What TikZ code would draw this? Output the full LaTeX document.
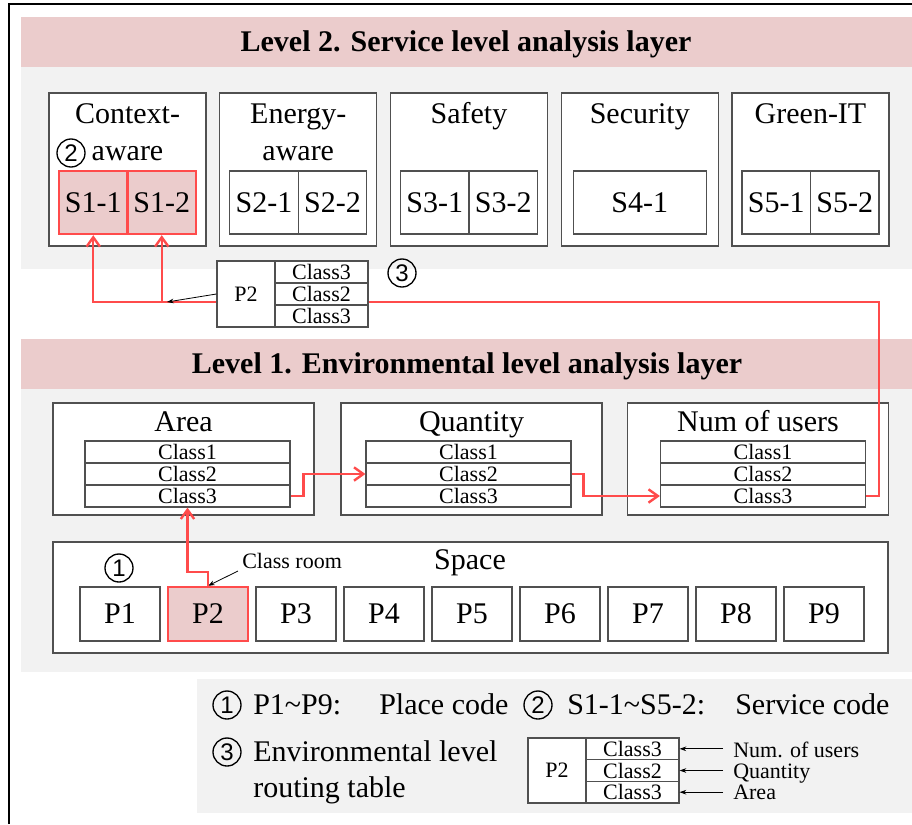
\documentclass[tikz,border=0pt]{standalone}
\usepackage{fontspec}
\setmainfont{Liberation Serif}
\newfontfamily\circfont{Liberation Sans}
\usetikzlibrary{arrows.meta}
\definecolor{bandpink}{RGB}{235,204,204}
\definecolor{bggray}{RGB}{242,242,242}
\definecolor{linegray}{RGB}{80,80,80}
\definecolor{redc}{RGB}{255,75,75}
\begin{document}
\begin{tikzpicture}[x=0.75pt,y=-0.75pt,
  big/.style={font=\fontsize{22.5pt}{26pt}\selectfont},
  small/.style={font=\fontsize{16.5pt}{19pt}\selectfont},
  txt/.style={inner sep=0pt,anchor=base},
  circ/.style={circle,draw=black,line width=1pt,minimum size=21pt,inner sep=0pt,font=\circfont\fontsize{18pt}{18pt}\selectfont},
  box/.style={draw=linegray,line width=0.9pt,fill=white,inner sep=0pt},
  sbox/.style={box,minimum width=117.75pt,minimum height=114.75pt},
  cell/.style={box,big,minimum width=51.375pt,minimum height=47.25pt},
  hcell/.style={cell,draw=redc,line width=1.8pt,fill=bandpink},
  ebox/.style={box,minimum width=195.75pt,minimum height=84pt},
  crow/.style={box,small,minimum width=153.75pt,minimum height=16.5pt},
  pbox/.style={box,big,minimum width=60pt,minimum height=40.5pt},
  redl/.style={draw=redc,line width=1.8pt},
  rtip/.style={-{Straight Barb[length=7pt,width=10pt]}},
  btip/.style={draw=black,line width=0.6pt,-{Stealth[length=5pt,width=3.5pt]}}
]
\useasboundingbox (0,0) rectangle (912,824);
% frame
\draw[line width=2pt] (9,824) -- (9,4) -- (912,4);
% backgrounds
\fill[bandpink] (21,17) rectangle (912,67);
\fill[bggray] (21,67) rectangle (912,269);
\fill[bandpink] (21,339) rectangle (912,389);
\fill[bggray] (21,389) rectangle (912,672);
\fill[bggray] (197,679) rectangle (912,813);
% titles
\node[txt,font=\fontsize{22.5pt}{26pt}\selectfont\bfseries] (t2) at (466,51) {Level 2. Service level analysis layer};
\node[txt,font=\fontsize{22.5pt}{26pt}\selectfont\bfseries] (t1) at (467,373) {Level 1. Environmental level analysis layer};
% level 2 service boxes
\node[sbox] (sb1) at (127.5,169.5) {};
\node[sbox] (sb2) at (298.25,169.5) {};
\node[sbox] (sb3) at (469,169.5) {};
\node[sbox] (sb4) at (639.75,169.5) {};
\node[sbox] (sb5) at (810.5,169.5) {};
\node[txt,big] (sb1a) at (127.5,123) {Context-};
\node[txt,big] (sb1b) at (127.5,160) {aware};
\node[circ] (c2a) at (71,153) {2};
\node[txt,big] (sb2a) at (298.25,123) {Energy-};
\node[txt,big] (sb2b) at (298.25,160) {aware};
\node[txt,big] (sb3a) at (469,123) {Safety};
\node[txt,big] (sb4a) at (639.75,123) {Security};
\node[txt,big] (sb5a) at (810.5,123) {Green-IT};
\node[hcell] (s11) at (93.25,202.5) {S1-1};
\node[hcell] (s12) at (161.75,202.5) {S1-2};
\node[cell] (s21) at (264,202.5) {S2-1};
\node[cell] (s22) at (332.5,202.5) {S2-2};
\node[cell] (s31) at (434.75,202.5) {S3-1};
\node[cell] (s32) at (503.25,202.5) {S3-2};
\node[cell,minimum width=99.75pt] (s41) at (639.75,202.5) {S4-1};
\node[cell] (s51) at (776.25,202.5) {S5-1};
\node[cell] (s52) at (844.75,202.5) {S5-2};
% level 1 boxes
\node[ebox] (eA) at (183.5,459) {};
\node[ebox] (eQ) at (471.5,459) {};
\node[ebox] (eN) at (758,459) {};
\node[txt,big] (eAt) at (183.5,431) {Area};
\node[txt,big] (eQt) at (471.5,431) {Quantity};
\node[txt,big] (eNt) at (758,431) {Num of users};
\node[crow] (ac1) at (187.5,452) {Class1};
\node[crow] (ac2) at (187.5,474) {Class2};
\node[crow] (ac3) at (187.5,496) {Class3};
\node[crow] (qc1) at (468.5,452) {Class1};
\node[crow] (qc2) at (468.5,474) {Class2};
\node[crow] (qc3) at (468.5,496) {Class3};
\node[crow] (nc1) at (763,452) {Class1};
\node[crow] (nc2) at (763,474) {Class2};
\node[crow] (nc3) at (763,496) {Class3};
% space
\node[box,minimum width=626.25pt,minimum height=83.25pt] (sp) at (470.5,597.5) {};
\node[txt,big] (spt) at (470,569) {Space};
\node[circ] (c1a) at (119,568) {1};
\node[pbox] (p1) at (120,614) {P1};
\node[pbox,draw=redc,line width=1.8pt,fill=bandpink] (p2) at (208,614) {P2};
\node[pbox] (p3) at (296,614) {P3};
\node[pbox] (p4) at (384,614) {P4};
\node[pbox] (p5) at (472,614) {P5};
\node[pbox] (p6) at (560,614) {P6};
\node[pbox] (p7) at (648,614) {P7};
\node[pbox] (p8) at (736,614) {P8};
\node[pbox] (p9) at (824,614) {P9};
\node[txt,small,anchor=base west] (cr) at (242,568) {Class room};
\draw[btip] (238,571) -- (p2.north);
% red routes level 1
\draw[redl,rtip] (p2.north) -- ++(0,-14) -| (ac3.south);
\draw[redl,rtip] (ac3.east) -- ++(13,0) |- (qc2.west);
\draw[redl,rtip] (qc2.east) -- ++(12,0) |- (nc3.west);
% red route to level 2
\coordinate (jr) at (879,302);
\draw[redl,rtip] (nc3.east) -- (jr |- nc3.east) -- (jr) -- (s11.south |- jr) -- (s11.south);
\draw[redl,rtip] (s12.south |- jr) -- (s12.south);
% routing table (top)
\node[box,minimum width=43.5pt,minimum height=49.5pt,small] (rtp) at (246,294) {P2};
\node[box,small,minimum width=69.75pt,minimum height=16.5pt] (rt1) at (321.5,272) {Class3};
\node[box,small,minimum width=69.75pt,minimum height=16.5pt] (rt2) at (321.5,294) {Class2};
\node[box,small,minimum width=69.75pt,minimum height=16.5pt] (rt3) at (321.5,316) {Class3};
\draw[btip] (rtp.west) -- (167,302);
\node[circ] (c3a) at (402,273) {3};
% legend
\node[circ] (lc1) at (227,705) {1};
\node[txt,big,anchor=base west] (l1a) at (253,714) {P1\char`~P9:};
\node[txt,big,anchor=base west] (l1b) at (379,714) {Place code};
\node[circ] (lc2) at (538,705) {2};
\node[txt,big,anchor=base west] (l2a) at (567,714) {S1-1\char`~S5-2:};
\node[txt,big,anchor=base west] (l2b) at (735,714) {Service code};
\node[circ] (lc3) at (227,752) {3};
\node[txt,big,anchor=base west] (l3a) at (253,761) {Environmental level};
\node[txt,big,anchor=base west] (l3b) at (253,797) {routing table};
\node[box,minimum width=43.5pt,minimum height=48.75pt,small] (ltp) at (557,770.5) {P2};
\node[box,small,minimum width=69.75pt,minimum height=16.25pt] (lt1) at (632.5,748.8) {Class3};
\node[box,small,minimum width=69.75pt,minimum height=16.25pt] (lt2) at (632.5,770.5) {Class2};
\node[box,small,minimum width=69.75pt,minimum height=16.25pt] (lt3) at (632.5,792.2) {Class3};
\node[txt,small,anchor=base west] (ll1) at (733,757) {Num. of users};
\node[txt,small,anchor=base west] (ll2) at (733,778) {Quantity};
\node[txt,small,anchor=base west] (ll3) at (733,799) {Area};
\draw[btip] (ll1.west |- lt1.east) ++(-10,0) -- (lt1.east);
\draw[btip] (ll2.west |- lt2.east) ++(-10,0) -- (lt2.east);
\draw[btip] (ll3.west |- lt3.east) ++(-10,0) -- (lt3.east);
\end{tikzpicture}
\end{document}
